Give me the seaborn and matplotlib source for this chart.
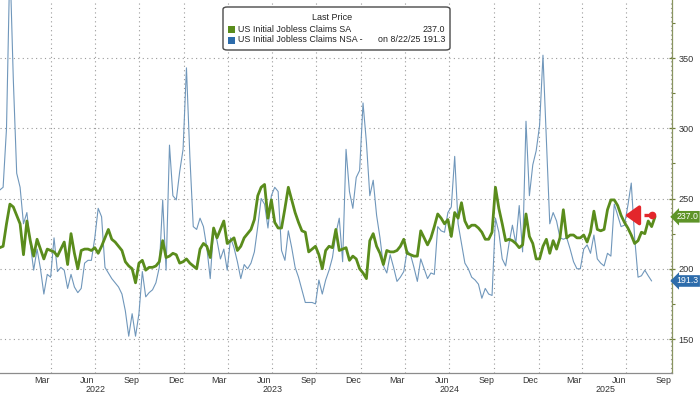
import pandas as pd
import matplotlib
matplotlib.use("Agg")
import matplotlib.pyplot as plt
import matplotlib.dates as mdates
import matplotlib.transforms as mtransforms
from matplotlib.patches import FancyBboxPatch, Rectangle
import seaborn as sns

# weekly initial jobless claims (thousands)
sa_claims = [
    215, 216, 232, 246, 244, 238, 232, 210, 234, 220,
    209, 221, 214, 207, 214, 213, 212, 209, 214, 219,
    203, 225, 211, 200, 213, 214, 214, 213, 215, 211,
    216, 222, 228, 221, 219, 216, 213, 205, 202, 200,
    190, 204, 206, 199, 201, 201, 202, 205, 220, 208,
    209, 211, 210, 204, 205, 207, 204, 202, 200, 214,
    218, 216, 208, 229, 222, 228, 234, 218, 220, 222,
    213, 216, 222, 225, 228, 235, 252, 258, 260, 236,
    249, 233, 229, 229, 243, 258, 249, 240, 233, 227,
    226, 212, 214, 216, 210, 200, 213, 216, 215, 228,
    213, 214, 215, 206, 209, 207, 200, 197, 193, 220,
    225, 216, 211, 203, 213, 212, 212, 213, 216, 221,
    211, 210, 209, 209, 227, 222, 217, 222, 230, 239,
    236, 232, 235, 223, 240, 236, 247, 234, 229, 231,
    231, 229, 226, 221, 221, 226, 258, 243, 232, 220,
    221, 220, 218, 215, 217, 239, 223, 218, 207, 207,
    216, 221, 211, 220, 214, 222, 242, 222, 224, 224,
    222, 222, 224, 219, 226, 241, 228, 227, 228, 242,
    249, 249, 245, 238, 233, 229, 224, 218, 220, 226,
    225, 234, 230, 237.0,
]
nsa_claims = [
    256, 258, 300, 420, 335, 268, 258, 232, 240, 218,
    199, 214, 200, 182, 196, 194, 222, 198, 201, 199,
    186, 196, 187, 183, 186, 204, 206, 206, 222, 243,
    237, 201, 197, 193, 190, 187, 182, 170, 152, 168,
    152, 168, 198, 180, 183, 185, 190, 201, 249, 199,
    288, 252, 249, 269, 285, 343, 280, 230, 228, 236,
    230, 215, 193, 229, 220, 207, 214, 199, 222, 215,
    205, 193, 203, 200, 204, 212, 230, 250, 246, 229,
    252, 258, 255, 213, 206, 227, 215, 201, 194, 185,
    176, 176, 176, 175, 192, 182, 192, 199, 208, 225,
    236, 205, 285, 255, 243, 265, 270, 318, 290, 252,
    263, 238, 222, 202, 197, 210, 201, 191, 194, 198,
    213, 210, 201, 191, 207, 200, 193, 197, 196, 230,
    227, 226, 240, 244, 280, 232, 218, 204, 200, 194,
    192, 189, 179, 186, 182, 181, 236, 226, 207, 202,
    218, 231, 218, 245, 212, 305, 252, 274, 284, 302,
    352, 292, 232, 240, 234, 222, 221, 222, 214, 205,
    200, 200, 214, 217, 211, 224, 207, 204, 202, 211,
    209, 246, 238, 230, 231, 245, 261, 222, 194, 195,
    199, 195, 191.3,
]
last_nsa_date = "2025-08-22"
y_ticks = [150, 200, 250, 300, 350]
month_names = {3: "Mar", 6: "Jun", 9: "Sep", 12: "Dec"}
years = [2022, 2023, 2024, 2025]

GREEN = "#5a8c1c"
BLUE_LINE = "#7097bb"
BLUE = "#2d6cab"
RED = "#e3262b"

nsa_dates = pd.date_range(end=last_nsa_date, periods=len(nsa_claims), freq="7D")
sa_dates = pd.date_range(start=nsa_dates[0], periods=len(sa_claims), freq="7D")
sa_df = pd.DataFrame({"date": sa_dates, "claims": sa_claims})
nsa_df = pd.DataFrame({"date": nsa_dates, "claims": nsa_claims})

sns.set_style("white")
plt.rcParams["font.family"] = ["Liberation Sans", "DejaVu Sans"]

W, H = 700, 394
fig = plt.figure(figsize=(7, 3.94), dpi=100)
ax = fig.add_axes([0, 21 / H, 672 / W, 373 / H])

sns.lineplot(data=nsa_df, x="date", y="claims", ax=ax, color=BLUE_LINE, lw=0.8)
sns.lineplot(data=sa_df, x="date", y="claims", ax=ax, color=GREEN, lw=2.0)

xmin = pd.Timestamp("2021-12-17 14:00")
xmax = pd.Timestamp("2025-10-03")
ax.set_xlim(xmin, xmax)
ax.set_ylim(125.8, 391.3)
ax.set_xlabel("")
ax.set_ylabel("")

# grid
dot = (0, (1, 3))
for y in y_ticks:
    ax.axhline(y, color="#9a9a9a", lw=0.8, ls=dot, zorder=0)
for year in years:
    for m in [4, 7, 10, 13]:
        d = pd.Timestamp(year + (m - 1) // 12, (m - 1) % 12 + 1, 1)
        if xmin < d < xmax:
            ax.axvline(d, color="#9a9a9a", lw=0.8, ls=dot, zorder=0)

# spines
for s in ["top", "left"]:
    ax.spines[s].set_visible(False)
ax.spines["bottom"].set_color("#8c8c8c")
ax.spines["right"].set_color("#8a9560")
ax.spines["bottom"].set_linewidth(0.9)
ax.spines["right"].set_linewidth(0.9)

# y axis on the right
ax.yaxis.tick_right()
ax.set_yticks(y_ticks)
ax.set_yticks([175, 225, 275, 325, 375], minor=True)
ax.tick_params(axis="y", which="major", direction="inout", length=5, width=0.9,
               color="#6f7d3a", labelsize=6.6, labelcolor="#333333", pad=2)
ax.tick_params(axis="y", which="minor", direction="out", length=2.5, width=0.8,
               color="#6f7d3a")

# x axis: year separators as long ticks, months as minor ticks
ax.set_xticks([pd.Timestamp(y, 1, 1) for y in years])
ax.xaxis.set_major_formatter(plt.NullFormatter())
ax.xaxis.set_minor_locator(mdates.MonthLocator())
ax.tick_params(axis="x", which="major", direction="out", length=15.5, width=0.9,
               color="#9a9a9a")
ax.tick_params(axis="x", which="minor", direction="out", length=2.5, width=0.7,
               color="#9a9a9a")

trans = mtransforms.blended_transform_factory(ax.transData, ax.transAxes)
for year in years:
    for m, name in month_names.items():
        mid = pd.Timestamp(year, m, 15)
        if xmin < mid < xmax:
            ax.text(mid, -7.5 / 373, name, transform=trans, ha="center", va="center",
                    fontsize=6.4, color="#333333")
    start = max(pd.Timestamp(year, 1, 1), xmin)
    end = min(pd.Timestamp(year + 1, 1, 1), xmax)
    ax.text(start + (end - start) / 2, -16.5 / 373, str(year), transform=trans,
            ha="center", va="center", fontsize=6.4, color="#333333")

# last value tags on the right axis
tag = mtransforms.blended_transform_factory(ax.transAxes, ax.transData)
for value, fc in [(sa_claims[-1], "#5e9428"), (nsa_claims[-1], BLUE)]:
    ax.text(1 + 4.5 / 672, value, f"{value:.1f}", transform=tag,
            ha="left", va="center", fontsize=6.3, color="white", clip_on=False,
            bbox=dict(boxstyle="larrow,pad=0.15", fc=fc, ec="none"))

# red dashed arrow
arrow_y = 238
ax.plot([pd.Timestamp("2025-07-14"), pd.Timestamp("2025-08-21")], [arrow_y, arrow_y],
        color=RED, lw=2.4, dashes=(2.0, 1.3), solid_capstyle="butt", zorder=5)
ax.plot([pd.Timestamp("2025-08-23")], [arrow_y + 0.5], marker="o", ms=4.5, color=RED, zorder=5)
ax.annotate("", xy=(pd.Timestamp("2025-06-28"), arrow_y),
            xytext=(pd.Timestamp("2025-07-16"), arrow_y),
            arrowprops=dict(arrowstyle="-|>,head_length=0.7,head_width=0.5",
                            color=RED, lw=2.4, shrinkA=0, shrinkB=0, mutation_scale=12),
            zorder=6)

# legend box
def fx(px):
    return px / W

def fy(py):
    return 1 - py / H

box = FancyBboxPatch((fx(223), fy(50)), fx(450) - fx(223), fy(7) - fy(50),
                     boxstyle="round,pad=0,rounding_size=0.006", transform=fig.transFigure,
                     fc="white", ec="#4a4a4a", lw=1.0, zorder=10)
fig.add_artist(box)
fig.text(fx(332), fy(18), "Last Price", ha="center", va="center", fontsize=6.5,
         color="#222222", zorder=11)
for py, color, label, value in [
    (29, GREEN, "US Initial Jobless Claims SA", f"{sa_claims[-1]:.1f}"),
    (40, BLUE, "US Initial Jobless Claims NSA -", f"on 8/22/25 {nsa_claims[-1]:.1f}"),
]:
    fig.add_artist(Rectangle((fx(228), fy(py + 3.5)), fx(7), 7 / H, transform=fig.transFigure,
                             fc=color, ec="none", zorder=11))
    fig.text(fx(238), fy(py), label, ha="left", va="center", fontsize=6.4,
             color="#222222", zorder=11)
    fig.text(fx(445), fy(py), value, ha="right", va="center", fontsize=6.4,
             color="#222222", zorder=11)

fig.savefig("out.png", dpi=100)
